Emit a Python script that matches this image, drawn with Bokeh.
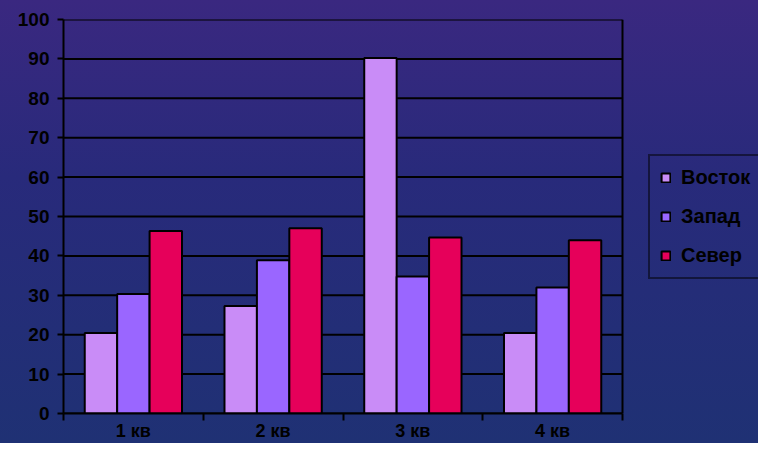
from bokeh.plotting import figure
from bokeh.models import ColumnDataSource, FixedTicker, Legend, LegendItem
from bokeh.embed import file_html
from bokeh.resources import INLINE

categories = ["1 кв", "2 кв", "3 кв", "4 кв"]
series_names = ["Восток", "Запад", "Север"]
vostok = [20.4, 27.3, 90.2, 20.4]
zapad = [30.3, 38.9, 34.8, 32.0]
sever = [46.3, 47.0, 44.7, 44.0]
y_ticks = list(range(0, 101, 10))

colors = ["#c98cf7", "#9a66ff", "#e6005a"]
FONT = "Liberation Sans"

W, H = 758, 443
LEFT, BOTTOM, TOP = 63, 29, 19
plot_px = 559                      # pixel width of the category area
n = len(categories)
x_end = n * (W - LEFT) / plot_px   # frame extends to the right edge; legend sits in it

p = figure(width=W, height=H, output_backend="svg", toolbar_location=None,
           x_range=(0, x_end), y_range=(0, 100),
           min_border_left=LEFT, min_border_right=0, min_border_top=TOP, min_border_bottom=BOTTOM)

p.styles = {"background": "linear-gradient(to bottom, #3a2880 0%, #282a7b 40%, #1f3174 100%)"}
p.border_fill_color = None
p.background_fill_color = None
p.outline_line_color = None

# grid lines and right border limited to the category area
p.segment(x0=[0] * len(y_ticks), x1=[n] * len(y_ticks), y0=y_ticks, y1=y_ticks,
          line_color="black", line_width=2)
p.segment(x0=[n], x1=[n], y0=[0], y1=[100], line_color="black", line_width=2)

bar_w = 0.232
offsets = [-bar_w, 0.0, bar_w]
renderers = []
for name, vals, col, off in zip(series_names, [vostok, zapad, sever], colors, offsets):
    src = ColumnDataSource(dict(x=[i + 0.5 + off for i in range(n)], top=vals))
    r = p.vbar(x="x", top="top", width=bar_w, bottom=0, source=src,
               fill_color=col, line_color="black", line_width=2)
    renderers.append(r)

p.xgrid.grid_line_color = None
p.ygrid.grid_line_color = None

# y axis
p.yaxis.ticker = FixedTicker(ticks=y_ticks)
p.yaxis.axis_line_color = "black"
p.yaxis.axis_line_width = 2
p.yaxis.major_tick_line_color = "black"
p.yaxis.major_tick_line_width = 2
p.yaxis.major_tick_out = 6
p.yaxis.major_tick_in = 0
p.yaxis.minor_tick_line_color = None
p.yaxis.major_label_standoff = 8
p.yaxis.major_label_text_font = FONT
p.yaxis.major_label_text_font_style = "bold"
p.yaxis.major_label_text_font_size = "19px"
p.yaxis.major_label_text_color = "black"

# x axis: labels at centres, ticks at boundaries
centres = [i + 0.5 for i in range(n)]
p.xaxis.ticker = FixedTicker(ticks=centres, minor_ticks=list(range(n + 1)))
p.xaxis.major_label_overrides = {c: lab for c, lab in zip(centres, categories)}
p.xaxis.bounds = (0, n)
p.xaxis.axis_line_color = "black"
p.xaxis.axis_line_width = 2
p.xaxis.major_tick_line_color = None
p.xaxis.major_tick_out = 0
p.xaxis.major_tick_in = 0
p.xaxis.minor_tick_line_color = "black"
p.xaxis.minor_tick_line_width = 2
p.xaxis.minor_tick_out = 7
p.xaxis.minor_tick_in = 0
p.xaxis.major_label_standoff = 0
p.xaxis.major_label_text_font = FONT
p.xaxis.major_label_text_font_style = "bold"
p.xaxis.major_label_text_font_size = "18px"
p.xaxis.major_label_text_color = "black"

legend = Legend(items=[LegendItem(label=nm, renderers=[r]) for nm, r in zip(series_names, renderers)],
                location=(585, 134))
legend.border_line_color = "black"
legend.border_line_width = 2
legend.background_fill_alpha = 0
legend.label_text_font = FONT
legend.label_text_font_style = "bold"
legend.label_text_font_size = "20px"
legend.label_text_color = "black"
legend.glyph_width = 11
legend.glyph_height = 11
legend.label_standoff = 10
legend.padding = 10
legend.spacing = 16
legend.margin = 0
p.add_layout(legend, "center")

open("out.html", "w").write(file_html(p, INLINE))
